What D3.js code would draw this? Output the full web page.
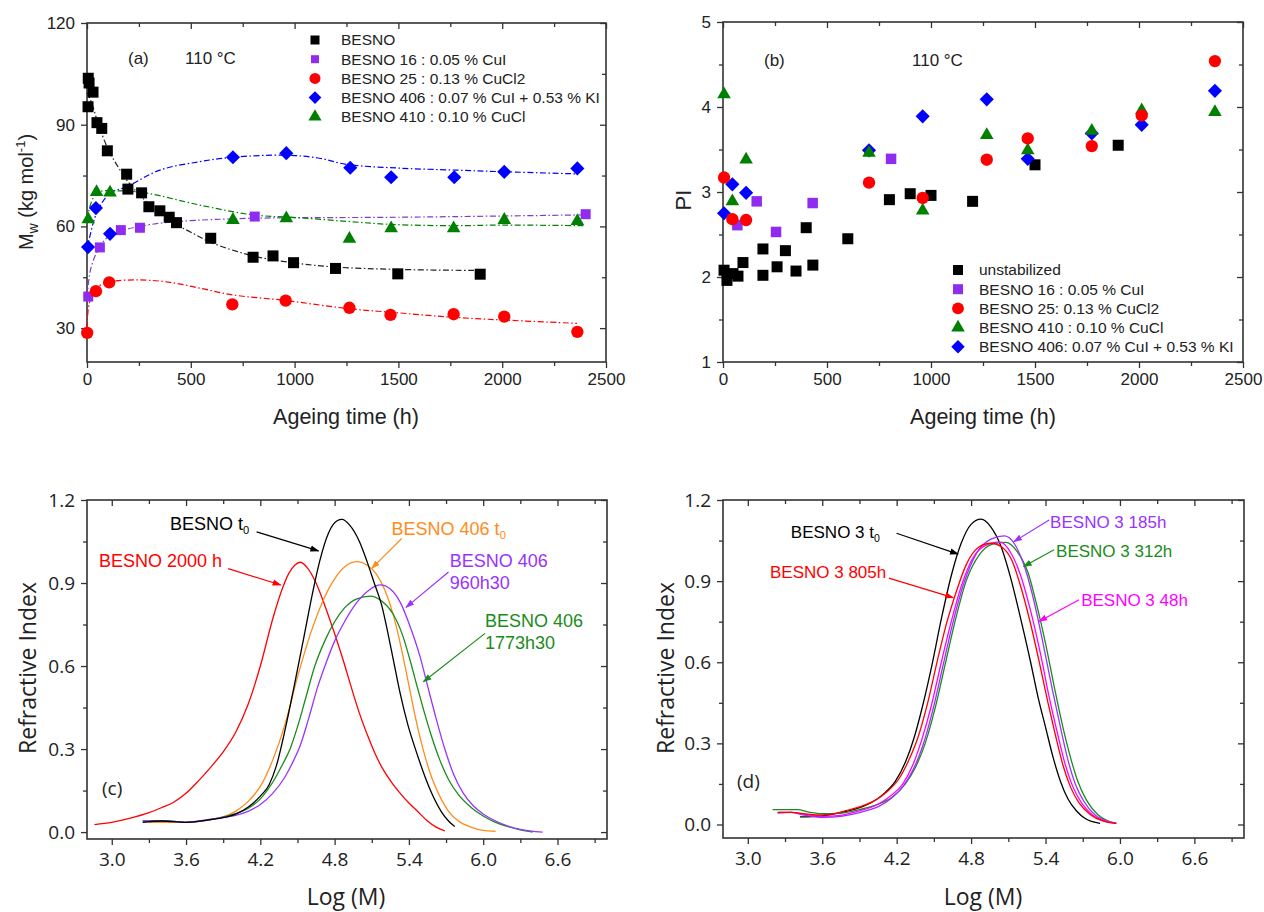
<!DOCTYPE html>
<html><head><meta charset="utf-8">
<script src="https://cdn.jsdelivr.net/npm/d3@7"></script>
<style>body{margin:0;background:#fff}svg{display:block}</style>
</head><body>
<svg id="chart" width="1264" height="912"></svg>
<script>
// ---------- Panel (a): Mw vs ageing time ----------
const aBesnoT  = [6,10,29,5,48,71,98,191,197,263,298,351,396,431,596,800,896,995,1197,1497,1894];
const aBesnoMw = [103.7,102.3,99.6,95.3,90.6,88.9,82.3,75.4,71.0,69.9,65.8,64.6,62.7,61.1,56.5,50.9,51.3,49.3,47.6,46.0,45.9];
const a16T  = [6,62,163,255,431,808,2402];
const a16Mw = [39.3,53.8,58.9,59.6,61.1,62.9,63.6];
const a25T  = [1,43,107,700,957,1264,1462,1766,2010,2362];
const a25Mw = [28.6,40.9,43.5,37.0,38.1,36.0,33.9,34.1,33.4,28.9];
const a406T  = [5,43,111,703,960,1268,1465,1769,2010,2362];
const a406Mw = [53.9,65.4,57.8,80.4,81.6,77.3,74.5,74.5,76.1,77.1];
const a410T  = [6,46,111,703,960,1264,1465,1766,2010,2362];
const a410Mw = [62.1,70.1,70.0,61.9,62.4,56.3,59.4,59.4,61.9,61.6];
// fitted trend lines
const fitBesno = [[0,99.5],[25,96],[50,91],[100,83],[150,77.5],[200,73],[250,69.5],[300,66.5],[350,64],[431,60.5],[500,58.3],[600,55.2],[800,51.3],[1000,49.2],[1200,48],[1500,47.3],[1900,47]];
const fit16 = [[0,39],[20,48],[62,54],[111,57.4],[200,59.3],[300,60.5],[450,61.5],[800,62.4],[1500,62.7],[2400,63.4]];
const fit25 = [[0,30],[10,37],[40,41.5],[100,43.5],[250,44.2],[400,43.5],[550,41.7],[700,39.8],[950,38.2],[1250,35.8],[1500,34.5],[1760,33.2],[2000,32.4],[2360,31.4]];
const fit406 = [[0,53],[46,63.9],[111,69.8],[191,71.7],[351,76.6],[543,79.1],[703,80.4],[960,81.0],[1120,80.1],[1249,78.3],[1500,77.2],[1777,76.6],[2018,76.1],[2354,75.5]];
const fit410 = [[0,62],[20,67],[50,70],[150,70.5],[287,69.8],[543,66.3],[800,63.4],[1011,62.6],[1250,61.5],[1457,60.6],[1761,60.2],[2001,60.4],[2402,60.2]];
const aLegend = ["BESNO","BESNO 16 : 0.05 % CuI","BESNO 25 : 0.13 % CuCl2","BESNO 406 : 0.07 % CuI + 0.53 % KI","BESNO 410 : 0.10 % CuCl"];

// ---------- Panel (b): PI vs ageing time ----------
const bUnT  = [5,19,48,72,96,192,192,260,300,351,400,432,600,800,900,1000,1200,1500,1900];
const bUnPI = [2.08,1.96,2.04,2.01,2.17,2.33,2.02,2.12,2.31,2.07,2.58,2.14,2.45,2.91,2.98,2.96,2.89,3.32,3.55];
const b16T  = [69,162,255,431,808];
const b16PI = [2.61,2.89,2.53,2.87,3.39];
const bStabT = [5,45,111,702,960,1268,1465,1773,2013,2365];
const b25PI  = [3.17,2.68,2.67,3.11,2.93,3.38,3.63,3.54,3.90,4.54];
const b410PI = [4.15,2.89,3.38,3.46,2.78,3.67,3.49,3.72,3.96,3.94];
const b406PI = [2.75,3.09,2.99,3.49,3.89,4.09,3.39,3.69,3.79,4.19];
const bLegend = ["unstabilized","BESNO 16 : 0.05 % CuI","BESNO 25: 0.13 % CuCl2","BESNO 410 : 0.10 % CuCl","BESNO 406: 0.07 % CuI + 0.53 % KI"];

// ---------- Panel (c): GPC curves ----------
const cBesnoT0 = [[3.25,0.035],[3.4,0.04],[3.6,0.035],[3.8,0.045],[3.9,0.052],[4.0,0.065],[4.1,0.09],[4.2,0.13],[4.27,0.17],[4.33,0.24],[4.4,0.37],[4.47,0.52],[4.55,0.7],[4.62,0.86],[4.68,0.98],[4.75,1.08],[4.82,1.125],[4.86,1.13],[4.92,1.11],[5.0,1.05],[5.06,0.98],[5.12,0.9],[5.18,0.82],[5.23,0.72],[5.28,0.61],[5.33,0.5],[5.39,0.39],[5.46,0.29],[5.53,0.2],[5.6,0.125],[5.66,0.075],[5.72,0.04],[5.77,0.02]];
const cBesno2000 = [[2.86,0.027],[3.0,0.035],[3.15,0.05],[3.3,0.07],[3.4,0.088],[3.5,0.108],[3.6,0.14],[3.7,0.185],[3.8,0.235],[3.9,0.29],[4.0,0.36],[4.1,0.46],[4.2,0.6],[4.3,0.77],[4.37,0.87],[4.43,0.935],[4.48,0.965],[4.52,0.975],[4.58,0.955],[4.65,0.9],[4.72,0.82],[4.79,0.73],[4.87,0.62],[4.93,0.53],[5.0,0.43],[5.07,0.345],[5.13,0.28],[5.2,0.22],[5.26,0.18],[5.33,0.14],[5.4,0.105],[5.47,0.075],[5.55,0.04],[5.62,0.018],[5.69,0.004]];
const c406T0 = [[3.3,0.035],[3.5,0.035],[3.7,0.038],[3.8,0.045],[3.9,0.055],[4.0,0.075],[4.1,0.11],[4.2,0.165],[4.3,0.26],[4.4,0.39],[4.5,0.56],[4.6,0.71],[4.7,0.83],[4.8,0.915],[4.9,0.965],[4.98,0.977],[5.06,0.965],[5.14,0.93],[5.2,0.88],[5.25,0.82],[5.3,0.74],[5.35,0.64],[5.4,0.53],[5.45,0.42],[5.52,0.29],[5.59,0.19],[5.66,0.12],[5.72,0.075],[5.8,0.04],[5.9,0.018],[6.0,0.006],[6.1,0.003]];
const c406_960 = [[3.25,0.04],[3.45,0.04],[3.6,0.035],[3.75,0.043],[3.9,0.053],[4.0,0.06],[4.1,0.075],[4.2,0.1],[4.3,0.14],[4.4,0.2],[4.47,0.26],[4.52,0.31],[4.59,0.41],[4.66,0.52],[4.73,0.61],[4.8,0.69],[4.88,0.76],[4.98,0.83],[5.08,0.875],[5.17,0.893],[5.25,0.878],[5.33,0.83],[5.42,0.73],[5.49,0.634],[5.55,0.53],[5.62,0.41],[5.69,0.3],[5.76,0.21],[5.84,0.14],[5.92,0.095],[6.0,0.065],[6.1,0.04],[6.2,0.022],[6.3,0.01],[6.48,0.0]];
const c406_1773 = [[3.25,0.04],[3.45,0.04],[3.6,0.035],[3.8,0.045],[3.95,0.06],[4.1,0.085],[4.2,0.12],[4.3,0.18],[4.38,0.245],[4.44,0.3],[4.5,0.38],[4.57,0.49],[4.64,0.6],[4.72,0.69],[4.8,0.76],[4.88,0.81],[4.98,0.843],[5.09,0.853],[5.18,0.835],[5.27,0.79],[5.35,0.71],[5.41,0.62],[5.47,0.52],[5.52,0.44],[5.58,0.35],[5.65,0.26],[5.72,0.19],[5.8,0.135],[5.9,0.09],[6.0,0.058],[6.1,0.035],[6.2,0.02],[6.3,0.008],[6.4,0.0]];

// ---------- Panel (d): GPC curves BESNO 3 ----------
const dT0 = [[3.42,0.028],[3.6,0.032],[3.74,0.043],[3.9,0.062],[4.0,0.082],[4.1,0.115],[4.19,0.16],[4.27,0.23],[4.34,0.32],[4.41,0.44],[4.48,0.58],[4.56,0.76],[4.64,0.92],[4.72,1.04],[4.8,1.11],[4.88,1.129],[4.96,1.1],[5.04,1.03],[5.12,0.91],[5.19,0.78],[5.28,0.6],[5.34,0.47],[5.4,0.36],[5.46,0.25],[5.52,0.16],[5.58,0.095],[5.65,0.05],[5.72,0.022],[5.84,0.004]];
const d805 = [[3.24,0.045],[3.35,0.045],[3.45,0.04],[3.55,0.035],[3.65,0.037],[3.8,0.052],[3.92,0.068],[4.03,0.09],[4.12,0.12],[4.22,0.17],[4.3,0.24],[4.37,0.32],[4.45,0.45],[4.53,0.61],[4.6,0.74],[4.68,0.86],[4.76,0.96],[4.86,1.025],[4.96,1.04],[5.05,1.025],[5.13,0.975],[5.2,0.88],[5.27,0.76],[5.35,0.6],[5.42,0.45],[5.48,0.33],[5.54,0.22],[5.6,0.14],[5.67,0.08],[5.76,0.037],[5.86,0.013],[5.97,0.004]];
const d185 = [[3.24,0.042],[3.35,0.045],[3.45,0.035],[3.61,0.026],[3.75,0.03],[3.85,0.038],[3.95,0.05],[4.06,0.068],[4.16,0.098],[4.25,0.14],[4.33,0.2],[4.41,0.29],[4.49,0.42],[4.57,0.58],[4.65,0.74],[4.74,0.89],[4.84,1.0],[4.96,1.055],[5.07,1.067],[5.16,1.03],[5.24,0.94],[5.31,0.82],[5.38,0.67],[5.45,0.51],[5.52,0.36],[5.58,0.24],[5.64,0.15],[5.71,0.085],[5.8,0.035],[5.9,0.012],[5.97,0.004]];
const d312 = [[3.2,0.055],[3.3,0.055],[3.4,0.055],[3.5,0.045],[3.6,0.04],[3.75,0.042],[3.9,0.055],[4.05,0.075],[4.16,0.1],[4.27,0.15],[4.35,0.21],[4.43,0.3],[4.51,0.43],[4.59,0.59],[4.67,0.75],[4.76,0.9],[4.87,1.0],[4.98,1.038],[5.08,1.043],[5.17,1.01],[5.26,0.93],[5.33,0.81],[5.4,0.67],[5.47,0.51],[5.54,0.36],[5.6,0.25],[5.66,0.16],[5.73,0.09],[5.82,0.037],[5.9,0.013],[5.97,0.004]];
const d48 = [[3.25,0.045],[3.35,0.045],[3.45,0.038],[3.6,0.03],[3.75,0.034],[3.9,0.05],[4.05,0.075],[4.15,0.105],[4.25,0.15],[4.33,0.22],[4.4,0.31],[4.48,0.44],[4.56,0.6],[4.64,0.75],[4.72,0.88],[4.82,0.99],[4.93,1.035],[5.03,1.045],[5.12,1.005],[5.2,0.92],[5.28,0.79],[5.36,0.63],[5.43,0.47],[5.5,0.33],[5.56,0.22],[5.62,0.14],[5.69,0.08],[5.78,0.035],[5.88,0.012],[5.97,0.004]];

// tick values
const timeTicks = [0,500,1000,1500,2000,2500];
const timeMinor = [250,750,1250,1750,2250];
const mwTicks = [30,60,90,120];
const mwMinor = [45,75,105];
const piTicks = [1,2,3,4,5];
const piMinor = [1.5,2.5,3.5,4.5];
const logTicks = [3.0,3.6,4.2,4.8,5.4,6.0,6.6];
const logMinor = [3.3,3.9,4.5,5.1,5.7,6.3,6.9];
const riTicks = [0,0.3,0.6,0.9,1.2];
const riMinor = [0.15,0.45,0.75,1.05];

const SANS = "'Liberation Sans', Arial, sans-serif";
const SEGOE = "'Open Sans', 'Noto Sans', sans-serif";
const AX = "#333";
const C = {black:"#000000", purple:"#8f2cf0", red:"#ff0000", blue:"#0000ff", green:"#008000",
           orange:"#ff8c1a", violet:"#9933ff", green2:"#1a8c1a", magenta:"#ff00ff"};

const svg = d3.select("#chart");
const defs = svg.append("defs");
function arrowMarker(id, col){
  defs.append("marker").attr("id",id).attr("viewBox","0 0 10 10").attr("refX",9).attr("refY",5)
    .attr("markerWidth",9).attr("markerHeight",9).attr("markerUnits","userSpaceOnUse").attr("orient","auto")
    .append("path").attr("d","M0,1.5 L10,5 L0,8.5 Z").attr("fill",col);
}

function panel(cfg){
  const g = svg.append("g");
  const x = d3.scaleLinear().domain(cfg.xd).range([cfg.l, cfg.r]);
  const y = d3.scaleLinear().domain(cfg.yd).range([cfg.b, cfg.t]);
  const style = sel => { sel.select(".domain").remove();
    sel.selectAll("line").attr("stroke",AX).attr("stroke-width",1.3);
    sel.selectAll("text").attr("font-family",cfg.tickFont).attr("font-size",cfg.tickSize).attr("fill","#222"); };
  g.append("g").attr("transform",`translate(0,${cfg.b})`)
    .call(d3.axisBottom(x).tickValues(cfg.xt).tickFormat(cfg.fx).tickSizeInner(6).tickSizeOuter(0).tickPadding(cfg.xpad)).call(style);
  g.append("g").attr("transform",`translate(0,${cfg.b})`)
    .call(d3.axisBottom(x).tickValues(cfg.xm).tickFormat("").tickSizeInner(4).tickSizeOuter(0)).call(style);
  g.append("g").attr("transform",`translate(${cfg.l},0)`)
    .call(d3.axisLeft(y).tickValues(cfg.yt).tickFormat(cfg.fy).tickSizeInner(6).tickSizeOuter(0).tickPadding(cfg.ypad)).call(style);
  g.append("g").attr("transform",`translate(${cfg.l},0)`)
    .call(d3.axisLeft(y).tickValues(cfg.ym).tickFormat("").tickSizeInner(4).tickSizeOuter(0)).call(style);
  g.append("g").attr("transform",`translate(0,${cfg.t})`)
    .call(d3.axisTop(x).tickValues(cfg.xt).tickFormat("").tickSizeInner(-6).tickSizeOuter(0)).call(style);
  g.append("g").attr("transform",`translate(0,${cfg.t})`)
    .call(d3.axisTop(x).tickValues(cfg.xm).tickFormat("").tickSizeInner(-4).tickSizeOuter(0)).call(style);
  g.append("g").attr("transform",`translate(${cfg.r},0)`)
    .call(d3.axisRight(y).tickValues(cfg.yt).tickFormat("").tickSizeInner(-6).tickSizeOuter(0)).call(style);
  g.append("g").attr("transform",`translate(${cfg.r},0)`)
    .call(d3.axisRight(y).tickValues(cfg.ym).tickFormat("").tickSizeInner(-4).tickSizeOuter(0)).call(style);
  g.append("rect").attr("x",cfg.l).attr("y",cfg.t).attr("width",cfg.r-cfg.l).attr("height",cfg.b-cfg.t)
    .attr("fill","none").attr("stroke",AX).attr("stroke-width",1.6);
  return {g,x,y};
}

function sym(type, size, rot){ return {path:d3.symbol().type(type).size(size)(), rot:rot||0}; }
const SQ = sym(d3.symbolSquare,121), CI = sym(d3.symbolCircle,120), DI = sym(d3.symbolSquare,100,45), TR = sym(d3.symbolTriangle,80);
function scatter(P, xs, ys, s, col){
  P.g.append("g").selectAll("path").data(xs.map((v,i)=>[v,ys[i]])).join("path")
    .attr("d",s.path).attr("fill",col)
    .attr("transform",d=>`translate(${P.x(d[0])},${P.y(d[1])}) rotate(${s.rot})`);
}
function fitLine(P, pts, col){
  P.g.append("path").datum(pts).attr("fill","none").attr("stroke",col).attr("stroke-width",1.2)
    .attr("stroke-dasharray","6,2.5,1.5,2.5")
    .attr("d",d3.line().x(d=>P.x(d[0])).y(d=>P.y(d[1])).curve(d3.curveCatmullRom.alpha(0.5)));
}
function curve(P, pts, col){
  P.g.append("path").datum(pts).attr("fill","none").attr("stroke",col).attr("stroke-width",1.3)
    .attr("d",d3.line().x(d=>P.x(d[0])).y(d=>P.y(d[1])).curve(d3.curveMonotoneX));
}
function label(P, lines, pos, col, size, arrow, id){
  const t = P.g.append("text").attr("x",P.x(pos[0])).attr("y",P.y(pos[1]))
    .attr("font-family",SANS).attr("font-size",size).attr("fill",col);
  lines.forEach((ln,i)=>{
    const ts = t.append("tspan").attr("x",P.x(pos[0])).attr("dy", i? size*1.25 : 0);
    if (ln.sub){ ts.text(ln.text); ts.append("tspan").attr("font-size",size*0.62).attr("dy",4).text(ln.sub); }
    else ts.text(ln.text);
  });
  if (arrow){
    arrowMarker(id,col);
    P.g.append("line").attr("x1",P.x(arrow[0][0])).attr("y1",P.y(arrow[0][1]))
      .attr("x2",P.x(arrow[1][0])).attr("y2",P.y(arrow[1][1]))
      .attr("stroke",col).attr("stroke-width",1.2).attr("marker-end",`url(#${id})`);
  }
}
function axisTitle(x,y,rot,build,size,font){
  const t = svg.append("text").attr("transform",`translate(${x},${y}) rotate(${rot})`)
    .attr("text-anchor","middle").attr("font-family",font||SANS).attr("font-size",size).attr("fill","#222");
  build(t);
}
function legend(x0, tx, y0, dy, names, syms, cols, size){
  const g = svg.append("g");
  names.forEach((n,i)=>{
    g.append("path").attr("d",d3.symbol().type(syms[i].type).size(syms[i].size)())
      .attr("fill",cols[i]).attr("transform",`translate(${x0},${y0+i*dy}) rotate(${syms[i].rot||0})`);
    g.append("text").attr("x",tx).attr("y",y0+i*dy).attr("dy","0.35em")
      .attr("font-family",SANS).attr("font-size",size).attr("fill","#222").text(n);
  });
}

// ================= (a) =================
const A = panel({l:87,r:606,t:23,b:362,xd:[0,2500],yd:[20,120],xt:timeTicks,xm:timeMinor,yt:mwTicks,ym:mwMinor,
  fx:d3.format("d"),fy:d3.format("d"),xpad:5,ypad:6,tickFont:SANS,tickSize:17});
fitLine(A, fitBesno, "#222");
fitLine(A, fit16, "#7a3fc8");
fitLine(A, fit25, C.red);
fitLine(A, fit406, C.blue);
fitLine(A, fit410, C.green);
scatter(A, a16T, a16Mw, sym(d3.symbolSquare,100), C.purple);
scatter(A, aBesnoT, aBesnoMw, SQ, C.black);
scatter(A, a25T, a25Mw, CI, C.red);
scatter(A, a406T, a406Mw, DI, C.blue);
scatter(A, a410T, a410Mw, TR, C.green);
svg.append("text").attr("x",128).attr("y",64).attr("font-family",SANS).attr("font-size",17).attr("fill","#222").text("(a)");
svg.append("text").attr("x",185).attr("y",64).attr("font-family",SANS).attr("font-size",17).attr("fill","#222").text("110 °C");
legend(315, 341, 40, 19.2, aLegend,
  [{type:d3.symbolSquare,size:81},{type:d3.symbolSquare,size:64},{type:d3.symbolCircle,size:95},{type:d3.symbolSquare,size:81,rot:45},{type:d3.symbolTriangle,size:75}],
  [C.black,C.purple,C.red,C.blue,C.green], 15.5);
axisTitle(346, 424, 0, t=>t.text("Ageing time (h)"), 21.5);
axisTitle(33, 192, -90, t=>{ t.append("tspan").text("M");
  t.append("tspan").attr("font-size",14).attr("dy",5).text("w");
  t.append("tspan").attr("dy",-5).text(" (kg mol");
  t.append("tspan").attr("font-size",13).attr("dy",-8).text("-1");
  t.append("tspan").attr("dy",8).text(")"); }, 20);

// ================= (b) =================
const B = panel({l:723,r:1243,t:22,b:362,xd:[0,2500],yd:[1,5],xt:timeTicks,xm:timeMinor,yt:piTicks,ym:piMinor,
  fx:d3.format("d"),fy:d3.format("d"),xpad:5,ypad:6,tickFont:SANS,tickSize:17});
scatter(B, bUnT, bUnPI, SQ, C.black);
scatter(B, b16T, b16PI, sym(d3.symbolSquare,110), C.purple);
scatter(B, bStabT, b406PI, DI, C.blue);
scatter(B, bStabT, b410PI, TR, C.green);
scatter(B, bStabT, b25PI, CI, C.red);
svg.append("text").attr("x",764).attr("y",66).attr("font-family",SANS).attr("font-size",17).attr("fill","#222").text("(b)");
svg.append("text").attr("x",912).attr("y",66).attr("font-family",SANS).attr("font-size",17).attr("fill","#222").text("110 °C");
legend(958, 979, 270, 19.2, bLegend,
  [{type:d3.symbolSquare,size:100},{type:d3.symbolSquare,size:100},{type:d3.symbolCircle,size:110},{type:d3.symbolTriangle,size:80},{type:d3.symbolSquare,size:90,rot:45}],
  [C.black,C.purple,C.red,C.green,C.blue], 15.5);
axisTitle(983, 424, 0, t=>t.text("Ageing time (h)"), 21.5);
axisTitle(691, 200, -90, t=>t.text("PI"), 22);

// ================= (c) =================
const Cp = panel({l:87,r:607,t:500,b:839,xd:[2.8,7.0],yd:[-0.025,1.2],xt:logTicks,xm:logMinor,yt:riTicks,ym:riMinor,
  fx:d3.format(".1f"),fy:d3.format(".1f"),xpad:8,ypad:6,tickFont:SEGOE,tickSize:19});
curve(Cp, cBesno2000, C.red);
curve(Cp, c406T0, C.orange);
curve(Cp, c406_1773, C.green2);
curve(Cp, c406_960, C.violet);
curve(Cp, cBesnoT0, C.black);
label(Cp, [{text:"BESNO t",sub:"0"}], [3.47,1.09], C.black, 18, [[4.17,1.085],[4.67,1.016]], "arK");
label(Cp, [{text:"BESNO 2000 h"}], [2.897,0.957], C.red, 18, [[3.94,0.952],[4.365,0.893]], "arR");
label(Cp, [{text:"BESNO 406 t",sub:"0"}], [5.26,1.073], C.orange, 18, [[5.342,1.061],[5.10,0.953]], "arO");
label(Cp, [{text:"BESNO 406"},{text:"960h30"}], [5.73,0.959], C.violet, 18, [[5.72,0.940],[5.377,0.812]], "arV");
label(Cp, [{text:"BESNO 406"},{text:"1773h30"}], [6.015,0.742], C.green2, 18, [[6.015,0.718],[5.517,0.543]], "arG");
svg.append("text").attr("x",102).attr("y",795).attr("font-family",SEGOE).attr("font-size",19).attr("fill","#222").text("(c)");
axisTitle(346, 905, 0, t=>t.text("Log (M)"), 23, SEGOE);
axisTitle(36, 668, -90, t=>t.text("Refractive Index"), 23, SEGOE);

// ================= (d) =================
const Dp = panel({l:723,r:1244,t:500,b:838,xd:[2.8,7.0],yd:[-0.05,1.2],xt:logTicks,xm:logMinor,yt:riTicks,ym:riMinor,
  fx:d3.format(".1f"),fy:d3.format(".1f"),xpad:8,ypad:6,tickFont:SEGOE,tickSize:19});
curve(Dp, dT0, C.black);
curve(Dp, d312, C.green2);
curve(Dp, d185, C.violet);
curve(Dp, d48, C.magenta);
curve(Dp, d805, C.red);
label(Dp, [{text:"BESNO 3 t",sub:"0"}], [3.347,1.06], C.black, 17, [[4.199,1.077],[4.695,1.0]], "brK");
label(Dp, [{text:"BESNO 3 805h"}], [3.179,0.912], C.red, 17, [[4.137,0.911],[4.655,0.839]], "brR");
label(Dp, [{text:"BESNO 3 185h"}], [5.437,1.097], C.violet, 17, [[5.429,1.126],[5.145,1.046]], "brV");
label(Dp, [{text:"BESNO 3 312h"}], [5.485,0.99], C.green2, 17, [[5.469,1.016],[5.223,0.954]], "brG");
label(Dp, [{text:"BESNO 3 48h"}], [5.687,0.809], C.magenta, 17, [[5.671,0.831],[5.347,0.751]], "brM");
svg.append("text").attr("x",737).attr("y",788).attr("font-family",SEGOE).attr("font-size",19).attr("fill","#222").text("(d)");
axisTitle(983, 905, 0, t=>t.text("Log (M)"), 23, SEGOE);
axisTitle(674, 668, -90, t=>t.text("Refractive Index"), 23, SEGOE);
</script>
</body></html>
